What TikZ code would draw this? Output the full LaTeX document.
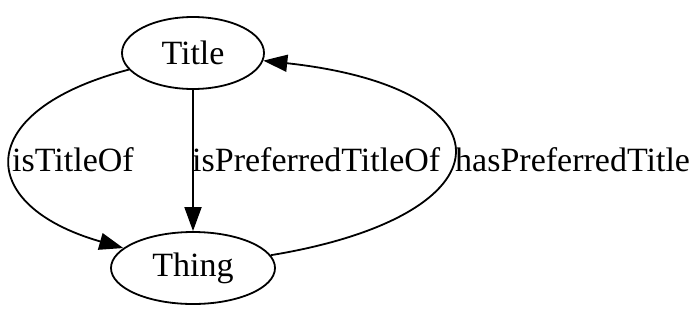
\documentclass[tikz,border=0pt]{standalone}
\usepackage{fontspec}
\setmainfont{Liberation Serif}
\usetikzlibrary{arrows.meta,shapes.geometric}
\begin{document}
\begin{tikzpicture}[x=1pt,y=-1pt,
  every node/.style={font=\fontsize{34}{40}\selectfont},
  ent/.style={draw,ellipse,line width=1.8pt,inner sep=0pt,minimum height=72pt},
  conn/.style={line width=1.8pt,-{Triangle[length=24pt,width=17pt]}},
  lab/.style={anchor=west,inner sep=0pt}]
\useasboundingbox (0,0) rectangle (700,322);
\node[ent,minimum width=142pt] (title) at (193,53) {Title};
\node[ent,minimum width=164pt] (thing) at (193,268) {Thing};
\draw[conn] (title) .. controls (-27,110) and (-27,205) .. (thing);
\draw[conn] (title) -- (thing);
\draw[conn] (thing) .. controls (515,215) and (515,88) .. (title);
\node[lab] (l1) at (12,160) {isTitleOf};
\node[lab] (l2) at (192,160) {isPreferredTitleOf};
\node[lab] (l3) at (455,160) {hasPreferredTitle};
\end{tikzpicture}
\end{document}
